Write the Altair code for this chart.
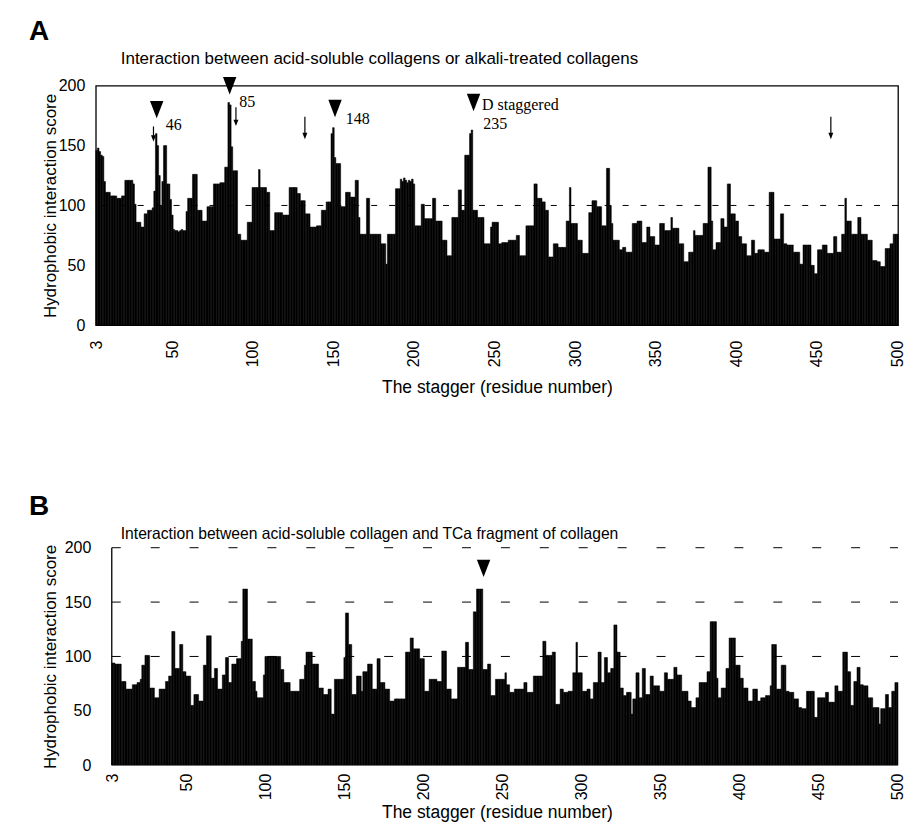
import altair as alt
import pandas as pd

residues = list(range(3, 501))
x_ticks = [3, 50, 100, 150, 200, 250, 300, 350, 400, 450, 500]
y_ticks = [0, 50, 100, 150, 200]

# Panel A: acid-soluble vs alkali-treated collagens (scores for staggers 3..500)
score_a_003_102 = [
    146, 148, 145, 142, 141, 120, 111, 111, 111, 108,
    108, 108, 108, 106, 106, 106, 108, 108, 121, 121,
    121, 121, 121, 118, 101, 86, 86, 86, 82, 82,
    93, 93, 96, 96, 96, 98, 112, 160, 150, 125,
    100, 120, 150, 150, 118, 118, 105, 92, 80, 79,
    79, 78, 79, 80, 79, 79, 95, 106, 106, 106,
    126, 126, 126, 96, 96, 96, 87, 87, 87, 99,
    99, 99, 99, 118, 118, 118, 118, 119, 119, 119,
    132, 132, 186, 184, 149, 129, 129, 129, 76, 76,
    71, 71, 71, 71, 86, 86, 86, 115, 115, 115,
]
score_a_103_202 = [
    115, 130, 115, 115, 115, 115, 111, 111, 79, 79,
    79, 94, 94, 94, 94, 94, 92, 92, 92, 92,
    115, 115, 115, 115, 115, 110, 110, 104, 104, 104,
    93, 93, 93, 82, 82, 82, 82, 83, 83, 83,
    96, 96, 96, 103, 103, 103, 160, 165, 140, 135,
    135, 135, 99, 99, 99, 111, 111, 111, 107, 107,
    107, 121, 121, 90, 76, 76, 76, 76, 106, 106,
    76, 76, 76, 76, 76, 76, 76, 68, 68, 68,
    51, 76, 76, 76, 76, 76, 114, 114, 114, 122,
    120, 123, 121, 119, 121, 120, 122, 118, 83, 83,
]
score_a_203_302 = [
    83, 83, 101, 101, 89, 89, 89, 89, 89, 106,
    106, 87, 87, 87, 87, 71, 71, 71, 58, 58,
    58, 90, 90, 90, 90, 113, 113, 96, 96, 142,
    142, 142, 160, 163, 96, 96, 96, 90, 90, 90,
    90, 68, 68, 68, 68, 82, 86, 86, 86, 86,
    68, 68, 69, 69, 69, 69, 71, 71, 71, 71,
    71, 75, 75, 58, 58, 58, 58, 83, 83, 83,
    83, 83, 118, 118, 106, 106, 106, 103, 103, 96,
    96, 57, 57, 57, 68, 68, 68, 65, 65, 65,
    65, 65, 87, 87, 115, 85, 85, 85, 85, 71,
]
score_a_303_402 = [
    71, 71, 60, 60, 60, 60, 94, 94, 104, 104,
    104, 99, 99, 99, 83, 83, 83, 131, 131, 100,
    85, 71, 71, 71, 71, 63, 63, 65, 65, 61,
    61, 61, 61, 85, 85, 85, 87, 87, 87, 69,
    69, 69, 82, 82, 74, 74, 74, 67, 67, 67,
    85, 85, 85, 79, 79, 79, 79, 90, 81, 81,
    81, 81, 68, 68, 68, 53, 53, 53, 61, 61,
    61, 79, 75, 75, 75, 75, 75, 85, 85, 85,
    132, 132, 87, 63, 63, 69, 69, 69, 89, 89,
    82, 82, 118, 118, 93, 93, 93, 87, 87, 74,
]
score_a_403_500 = [
    74, 68, 68, 68, 58, 58, 58, 71, 71, 60,
    60, 63, 63, 63, 63, 61, 61, 61, 111, 111,
    111, 72, 72, 72, 72, 93, 93, 68, 68, 67,
    67, 67, 67, 61, 61, 61, 61, 51, 51, 67,
    67, 67, 67, 67, 50, 50, 43, 43, 63, 63,
    63, 67, 67, 67, 60, 60, 60, 60, 74, 74,
    61, 61, 61, 76, 76, 106, 87, 87, 87, 76,
    76, 76, 76, 90, 90, 76, 76, 76, 76, 71,
    71, 71, 54, 54, 54, 53, 53, 49, 49, 49,
    64, 64, 64, 68, 68, 76, 76, 76,
]

# Panel B: acid-soluble collagen vs TCa fragment
score_b_003_102 = [
    94, 94, 93, 93, 93, 93, 77, 77, 77, 70,
    70, 70, 70, 74, 74, 74, 76, 76, 79, 92,
    92, 101, 101, 101, 71, 71, 71, 62, 62, 62,
    70, 70, 70, 70, 77, 77, 82, 82, 123, 123,
    89, 89, 89, 111, 111, 86, 86, 82, 82, 82,
    55, 55, 65, 65, 65, 59, 59, 59, 92, 92,
    119, 119, 119, 80, 80, 89, 89, 70, 70, 70,
    83, 83, 99, 99, 76, 76, 93, 93, 93, 98,
    98, 98, 114, 162, 162, 162, 116, 116, 116, 77,
    77, 68, 62, 62, 62, 62, 83, 100, 100, 100,
]
score_b_103_202 = [
    100, 100, 100, 100, 100, 100, 100, 88, 88, 76,
    76, 76, 76, 68, 68, 68, 68, 68, 68, 79,
    79, 79, 92, 104, 104, 104, 104, 93, 93, 93,
    93, 71, 71, 71, 65, 65, 65, 70, 70, 47,
    47, 79, 79, 79, 79, 79, 79, 99, 140, 140,
    111, 111, 65, 65, 65, 82, 82, 82, 68, 86,
    86, 86, 93, 93, 93, 70, 70, 70, 98, 98,
    76, 76, 76, 70, 70, 70, 59, 59, 59, 61,
    61, 61, 61, 61, 61, 61, 104, 104, 104, 117,
    117, 107, 107, 107, 107, 98, 98, 98, 68, 68,
]
score_b_203_302 = [
    68, 79, 79, 79, 79, 79, 77, 77, 77, 105,
    105, 105, 70, 70, 70, 61, 61, 61, 61, 90,
    90, 90, 90, 90, 113, 113, 88, 88, 88, 141,
    141, 162, 162, 162, 162, 88, 88, 88, 93, 93,
    64, 64, 64, 79, 79, 79, 79, 79, 79, 85,
    74, 74, 67, 67, 67, 70, 70, 70, 70, 70,
    70, 76, 76, 67, 67, 67, 67, 82, 82, 82,
    82, 82, 82, 114, 114, 101, 101, 101, 101, 104,
    104, 56, 56, 56, 70, 70, 67, 67, 67, 68,
    68, 68, 85, 85, 113, 85, 85, 85, 68, 68,
]
score_b_303_402 = [
    68, 70, 70, 61, 61, 76, 76, 76, 104, 104,
    76, 76, 99, 99, 85, 85, 89, 89, 129, 129,
    104, 104, 71, 71, 64, 64, 67, 67, 67, 47,
    61, 61, 85, 85, 62, 62, 89, 89, 65, 65,
    65, 82, 82, 73, 73, 73, 73, 68, 68, 68,
    85, 85, 79, 79, 79, 79, 90, 90, 83, 83,
    83, 68, 68, 68, 68, 59, 59, 53, 53, 53,
    62, 62, 76, 76, 76, 76, 76, 86, 86, 132,
    132, 132, 132, 80, 62, 62, 71, 71, 71, 89,
    89, 117, 117, 117, 117, 92, 92, 92, 80, 80,
]
score_b_403_500 = [
    71, 71, 71, 59, 59, 59, 70, 70, 70, 59,
    59, 62, 62, 62, 64, 64, 64, 73, 111, 111,
    111, 70, 70, 70, 92, 92, 92, 68, 68, 67,
    67, 67, 61, 61, 61, 53, 53, 52, 52, 52,
    68, 68, 68, 68, 68, 44, 44, 62, 62, 62,
    62, 62, 67, 67, 58, 58, 58, 58, 73, 73,
    68, 68, 68, 104, 104, 104, 86, 86, 55, 55,
    77, 77, 90, 90, 74, 74, 73, 73, 73, 62,
    62, 62, 53, 53, 53, 53, 38, 52, 52, 52,
    65, 65, 53, 53, 68, 68, 76, 76,
]

score_a = score_a_003_102 + score_a_103_202 + score_a_203_302 + score_a_303_402 + score_a_403_500
score_b = score_b_003_102 + score_b_103_202 + score_b_203_302 + score_b_303_402 + score_b_403_500

# Annotations (panel A)
tri_a_pos = [40.3, 85.6, 151.0, 237.0]
tri_a_val = [180, 200, 181, 186]
arrow_a_pos = [38.3, 89.5, 132.3, 458.8]
arrow_a_top = [166, 182, 174, 174]
arrow_a_tip = [156, 169, 158, 158]
label_a_text = ["46", "85", "148", "D staggered", "235"]
label_a_pos = [45.9, 91.5, 157.7, 242.3, 243.0]
label_a_val = [167, 186, 172, 184, 168]

# Annotations (panel B)
tri_b_pos = [238.0]
tri_b_val = [181]
grid_b_vals = [100, 150, 200]

FONT = "Liberation Sans"
SERIF = "Liberation Serif"
TRI = "M-0.85,-1.1L0.85,-1.1L0,1.1Z"

PLOT_W = 804          # plot width shared by both panels
B_SHIFT = 16          # panel B's left axis sits this many px right of panel A's
B_PX_PER_RES = (PLOT_W - B_SHIFT) / 498


def bar_frame(scores):
    return pd.DataFrame({
        "r": residues,
        "v": scores,
        "lo": [r - 0.5 for r in residues],
        "hi": [r + 0.5 for r in residues],
    })


def x_axis(label_pad, title_pad):
    return alt.Axis(values=x_ticks, labelAngle=-90, title="The stagger (residue number)",
                    ticks=False, domain=False, grid=False, labelFont=FONT, labelFontSize=16,
                    labelColor="black", labelPadding=label_pad, labelFlush=False,
                    labelOverlap=False, titleFont=FONT, titleFontSize=17.5,
                    titleFontWeight="normal", titleColor="black", titlePadding=title_pad)


def y_axis(label_pad, title_pad):
    return alt.Axis(values=y_ticks, title="Hydrophobic interaction score", grid=False,
                    domain=False, ticks=False, labelFont=FONT, labelFontSize=16,
                    labelColor="black", labelPadding=label_pad, titleFont=FONT,
                    titleFontSize=17, titleFontWeight="normal", titleColor="black",
                    titlePadding=title_pad)


# ---------- Panel A ----------
dfA = bar_frame(score_a)
xsA = alt.Scale(domain=[2.5, 500.5], nice=False, zero=False)
ysA = alt.Scale(domain=[0, 200], nice=False)

gridA = alt.Chart(pd.DataFrame({"y": [100]})).mark_rule(
    color="black", strokeWidth=1, strokeDash=[6, 12]).encode(y=alt.Y("y:Q", scale=ysA))

barsA = alt.Chart(dfA).mark_bar(color="black", stroke="black", strokeWidth=0.5).encode(
    x=alt.X("lo:Q", scale=xsA, axis=x_axis(15, 12)),
    x2="hi:Q",
    y=alt.Y("v:Q", scale=ysA, axis=y_axis(11, -1)),
    y2=alt.datum(0),
)

triA = alt.Chart(pd.DataFrame({"r": tri_a_pos, "v": tri_a_val})).mark_point(
    shape=TRI, filled=True, size=250, color="black", opacity=1).encode(
    x=alt.X("r:Q", scale=xsA), y=alt.Y("v:Q", scale=ysA))

arrow_df = pd.DataFrame({"r": arrow_a_pos, "top": arrow_a_top, "tip": arrow_a_tip})
stemA = alt.Chart(arrow_df).mark_rule(color="black", strokeWidth=1.2).encode(
    x=alt.X("r:Q", scale=xsA), y=alt.Y("top:Q", scale=ysA), y2="tip:Q")
headA = alt.Chart(arrow_df).mark_point(
    shape=TRI, filled=True, size=34, color="black", opacity=1).encode(
    x=alt.X("r:Q", scale=xsA), y=alt.Y("tip:Q", scale=ysA))

labelsA = alt.Chart(pd.DataFrame({"t": label_a_text, "r": label_a_pos, "v": label_a_val})).mark_text(
    font=SERIF, fontSize=16, align="left", baseline="middle", color="black").encode(
    x=alt.X("r:Q", scale=xsA), y=alt.Y("v:Q", scale=ysA), text="t:N")

letterA = alt.Chart(pd.DataFrame({"t": ["A"]})).mark_text(
    font=FONT, fontSize=28, fontWeight="bold", align="left", baseline="alphabetic",
    color="black").encode(x=alt.value(-67), y=alt.value(-46), text="t:N")
titleA = alt.Chart(pd.DataFrame({"t": ["Interaction between acid-soluble collagens or alkali-treated collagens"]})).mark_text(
    font=FONT, fontSize=17, align="left", baseline="alphabetic", color="black").encode(
    x=alt.value(25), y=alt.value(-22), text="t:N")

panelA = alt.layer(gridA, barsA, triA, stemA, headA, labelsA, letterA, titleA).properties(
    width=PLOT_W, height=240,
    view=alt.ViewBackground(stroke="black", strokeWidth=1.3),
)

# ---------- Panel B ----------
dfB = bar_frame(score_b)
xsB = alt.Scale(domain=[2.5 - B_SHIFT / B_PX_PER_RES, 500.5], nice=False, zero=False)
ysB = alt.Scale(domain=[0, 200], nice=False)

gridB = alt.Chart(pd.DataFrame({"y": grid_b_vals})).mark_rule(
    color="black", strokeWidth=1, strokeDash=[9, 30]).encode(
    y=alt.Y("y:Q", scale=ysB), x=alt.datum(2.5, scale=xsB), x2=alt.datum(500.5))

barsB = alt.Chart(dfB).mark_bar(color="black", stroke="black", strokeWidth=0.5).encode(
    x=alt.X("lo:Q", scale=xsB, axis=x_axis(8, 4)),
    x2="hi:Q",
    y=alt.Y("v:Q", scale=ysB, axis=y_axis(5, 5)),
    y2=alt.datum(0),
)

leftB = alt.Chart(pd.DataFrame({"x": [2.5], "y0": [0], "y1": [200]})).mark_rule(
    color="black", strokeWidth=1.3).encode(
    x=alt.X("x:Q", scale=xsB), y=alt.Y("y0:Q", scale=ysB), y2="y1:Q")

triB = alt.Chart(pd.DataFrame({"r": tri_b_pos, "v": tri_b_val})).mark_point(
    shape=TRI, filled=True, size=250, color="black", opacity=1).encode(
    x=alt.X("r:Q", scale=xsB), y=alt.Y("v:Q", scale=ysB))

letterB = alt.Chart(pd.DataFrame({"t": ["B"]})).mark_text(
    font=FONT, fontSize=28, fontWeight="bold", align="left", baseline="alphabetic",
    color="black").encode(x=alt.value(-67), y=alt.value(-33), text="t:N")
titleB = alt.Chart(pd.DataFrame({"t": ["Interaction between acid-soluble collagen and TCa fragment of collagen"]})).mark_text(
    font=FONT, fontSize=15.7, align="left", baseline="alphabetic", color="black").encode(
    x=alt.value(25), y=alt.value(-9), text="t:N")

panelB = alt.layer(gridB, barsB, leftB, triB, letterB, titleB).properties(
    width=PLOT_W, height=218,
)

chart = alt.vconcat(panelA, panelB, spacing=96).properties(
    padding={"left": 20, "top": 8, "right": 0, "bottom": 0},
).configure_view(stroke=None).resolve_scale(x="independent", y="independent")

chart.save("out.html", embed_options={"renderer": "svg", "actions": False})
